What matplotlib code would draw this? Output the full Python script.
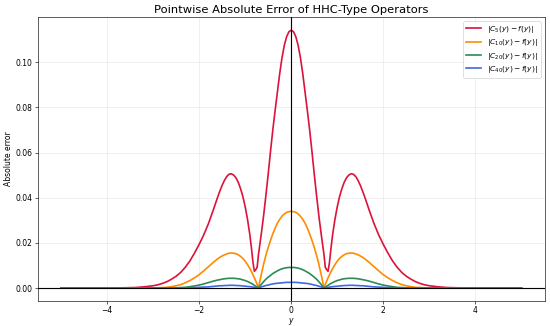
import matplotlib
matplotlib.use("Agg")
import matplotlib.pyplot as plt

y_vals = [-5.0, -4.5, -4.0, -3.7, -3.4, -3.2, -3.0, -2.9, -2.8, -2.7,
          -2.6, -2.5, -2.4, -2.3, -2.2, -2.1, -2.0, -1.9, -1.8, -1.7,
          -1.6, -1.55, -1.5, -1.45, -1.4, -1.35, -1.3, -1.25, -1.2, -1.15,
          -1.1, -1.05, -1.0, -0.95, -0.9, -0.86, -0.83, -0.8, -0.77, -0.74,
          -0.71, -0.7, -0.65, -0.6, -0.55, -0.5, -0.45, -0.4, -0.35, -0.3,
          -0.25, -0.2, -0.15, -0.1, -0.05,
          0.0,
          0.05, 0.1, 0.15, 0.2, 0.25, 0.3, 0.35, 0.4, 0.45, 0.5,
          0.55, 0.6, 0.65, 0.7, 0.71, 0.74, 0.77, 0.8, 0.83, 0.86,
          0.9, 0.95, 1.0, 1.05, 1.1, 1.15, 1.2, 1.25, 1.3, 1.35,
          1.4, 1.45, 1.5, 1.55, 1.6, 1.7, 1.8, 1.9, 2.0, 2.1,
          2.2, 2.3, 2.4, 2.5, 2.6, 2.7, 2.8, 2.9, 3.0, 3.2,
          3.4, 3.7, 4.0, 4.5, 5.0]

err_c5 = [0.0, 0.0, 0.0, 0.00005, 0.0002, 0.0005, 0.0010, 0.0014, 0.0020, 0.0028,
          0.0039, 0.0052, 0.0069, 0.0092, 0.0120, 0.0155, 0.0193, 0.0235, 0.0284, 0.0341,
          0.0401, 0.0429, 0.0455, 0.0477, 0.0494, 0.0504, 0.0506, 0.0500, 0.0488, 0.0468,
          0.0440, 0.0405, 0.0360, 0.0305, 0.0238, 0.0170, 0.0112, 0.0074, 0.0081, 0.0092,
          0.0150, 0.0165, 0.0240, 0.0320, 0.0410, 0.0505, 0.0605, 0.0700, 0.0786, 0.0868,
          0.0950, 0.1020, 0.1075, 0.1113, 0.1135,
          0.1142,
          0.1135, 0.1113, 0.1075, 0.1020, 0.0950, 0.0868, 0.0786, 0.0700, 0.0605, 0.0505,
          0.0410, 0.0320, 0.0240, 0.0165, 0.0150, 0.0092, 0.0081, 0.0074, 0.0112, 0.0170,
          0.0238, 0.0305, 0.0360, 0.0405, 0.0440, 0.0468, 0.0488, 0.0500, 0.0506, 0.0504,
          0.0494, 0.0477, 0.0455, 0.0429, 0.0401, 0.0341, 0.0284, 0.0235, 0.0193, 0.0155,
          0.0120, 0.0092, 0.0069, 0.0052, 0.0039, 0.0028, 0.0020, 0.0014, 0.0010, 0.0005,
          0.0002, 0.00005, 0.0, 0.0, 0.0]

err_c10 = [0.0, 0.0, 0.0, 0.0, 0.0, 0.0, 0.0, 0.0001, 0.0002, 0.0003,
           0.0006, 0.0010, 0.0015, 0.0023, 0.0033, 0.0045, 0.0059, 0.0076, 0.0094, 0.0112,
           0.0129, 0.0136, 0.0142, 0.0147, 0.0151, 0.0154, 0.0155, 0.0154, 0.0152, 0.0147,
           0.0140, 0.0131, 0.0119, 0.0104, 0.0087, 0.0071, 0.0058, 0.0045, 0.0031, 0.0016,
           0.0, 0.0012, 0.0060, 0.0105, 0.0145, 0.0180, 0.0211, 0.0240, 0.0265, 0.0287,
           0.0304, 0.0318, 0.0328, 0.0335, 0.0338,
           0.0340,
           0.0338, 0.0335, 0.0328, 0.0318, 0.0304, 0.0287, 0.0265, 0.0240, 0.0211, 0.0180,
           0.0145, 0.0105, 0.0060, 0.0012, 0.0, 0.0016, 0.0031, 0.0045, 0.0058, 0.0071,
           0.0087, 0.0104, 0.0119, 0.0131, 0.0140, 0.0147, 0.0152, 0.0154, 0.0155, 0.0154,
           0.0151, 0.0147, 0.0142, 0.0136, 0.0129, 0.0112, 0.0094, 0.0076, 0.0059, 0.0045,
           0.0033, 0.0023, 0.0015, 0.0010, 0.0006, 0.0003, 0.0002, 0.0001, 0.0, 0.0,
           0.0, 0.0, 0.0, 0.0, 0.0]

err_c20 = [0.0, 0.0, 0.0, 0.0, 0.0, 0.0, 0.0, 0.0, 0.0, 0.0,
           0.0, 0.0001, 0.0002, 0.0003, 0.0006, 0.0009, 0.0013, 0.0018, 0.0024, 0.0030,
           0.0035, 0.0037, 0.0039, 0.0041, 0.0042, 0.0043, 0.0043, 0.0043, 0.0042, 0.0041,
           0.0039, 0.0036, 0.0033, 0.0029, 0.0024, 0.0020, 0.0016, 0.0012, 0.0008, 0.0004,
           0.0, 0.0003, 0.0016, 0.0028, 0.0039, 0.0048, 0.0056, 0.0064, 0.0070, 0.0076,
           0.0081, 0.0085, 0.0088, 0.0090, 0.0091,
           0.0091,
           0.0091, 0.0090, 0.0088, 0.0085, 0.0081, 0.0076, 0.0070, 0.0064, 0.0056, 0.0048,
           0.0039, 0.0028, 0.0016, 0.0003, 0.0, 0.0004, 0.0008, 0.0012, 0.0016, 0.0020,
           0.0024, 0.0029, 0.0033, 0.0036, 0.0039, 0.0041, 0.0042, 0.0043, 0.0043, 0.0043,
           0.0042, 0.0041, 0.0039, 0.0037, 0.0035, 0.0030, 0.0024, 0.0018, 0.0013, 0.0009,
           0.0006, 0.0003, 0.0002, 0.0001, 0.0, 0.0, 0.0, 0.0, 0.0, 0.0,
           0.0, 0.0, 0.0, 0.0, 0.0]

err_c40 = [0.0, 0.0, 0.0, 0.0, 0.0, 0.0, 0.0, 0.0, 0.0, 0.0,
           0.0, 0.0, 0.0, 0.0, 0.0001, 0.0002, 0.0003, 0.0004, 0.0005, 0.0007,
           0.0009, 0.0010, 0.0010, 0.0011, 0.0011, 0.0012, 0.0012, 0.0012, 0.0011, 0.0011,
           0.0010, 0.0009, 0.0008, 0.0007, 0.0006, 0.0005, 0.0004, 0.0003, 0.0002, 0.0001,
           0.0, 0.0001, 0.0005, 0.0008, 0.0011, 0.0013, 0.0016, 0.0018, 0.0020, 0.0021,
           0.0022, 0.0023, 0.0024, 0.0025, 0.0025,
           0.0025,
           0.0025, 0.0025, 0.0024, 0.0023, 0.0022, 0.0021, 0.0020, 0.0018, 0.0016, 0.0013,
           0.0011, 0.0008, 0.0005, 0.0001, 0.0, 0.0001, 0.0002, 0.0003, 0.0004, 0.0005,
           0.0006, 0.0007, 0.0008, 0.0009, 0.0010, 0.0011, 0.0011, 0.0012, 0.0012, 0.0012,
           0.0011, 0.0011, 0.0010, 0.0010, 0.0009, 0.0007, 0.0005, 0.0004, 0.0003, 0.0002,
           0.0001, 0.0, 0.0, 0.0, 0.0, 0.0, 0.0, 0.0, 0.0, 0.0,
           0.0, 0.0, 0.0, 0.0, 0.0]

labels = [r"$|C_{5}(y) - f(y)|$", r"$|C_{10}(y) - f(y)|$",
          r"$|C_{20}(y) - f(y)|$", r"$|C_{40}(y) - f(y)|$"]
colors = ["crimson", "darkorange", "seagreen", "royalblue"]

fig, ax = plt.subplots(figsize=(10, 326 / 55), dpi=55)
for s, lab, c in zip([err_c5, err_c10, err_c20, err_c40], labels, colors):
    ax.plot(y_vals, s, color=c, lw=2.2, label=lab)

ax.axhline(0, color="black", lw=1.5)
ax.axvline(0, color="black", lw=1.5)
ax.grid(True, alpha=0.3)
ax.set_title("Pointwise Absolute Error of HHC-Type Operators", fontsize=15)
ax.set_xlabel(r"$y$", labelpad=1)
ax.set_ylabel("Absolute error")
ax.legend(loc="upper right", fontsize=9.8, labelspacing=0.3)
fig.subplots_adjust(left=0.069, right=0.99, top=0.947, bottom=0.077)
fig.savefig("out.png", dpi=55)
